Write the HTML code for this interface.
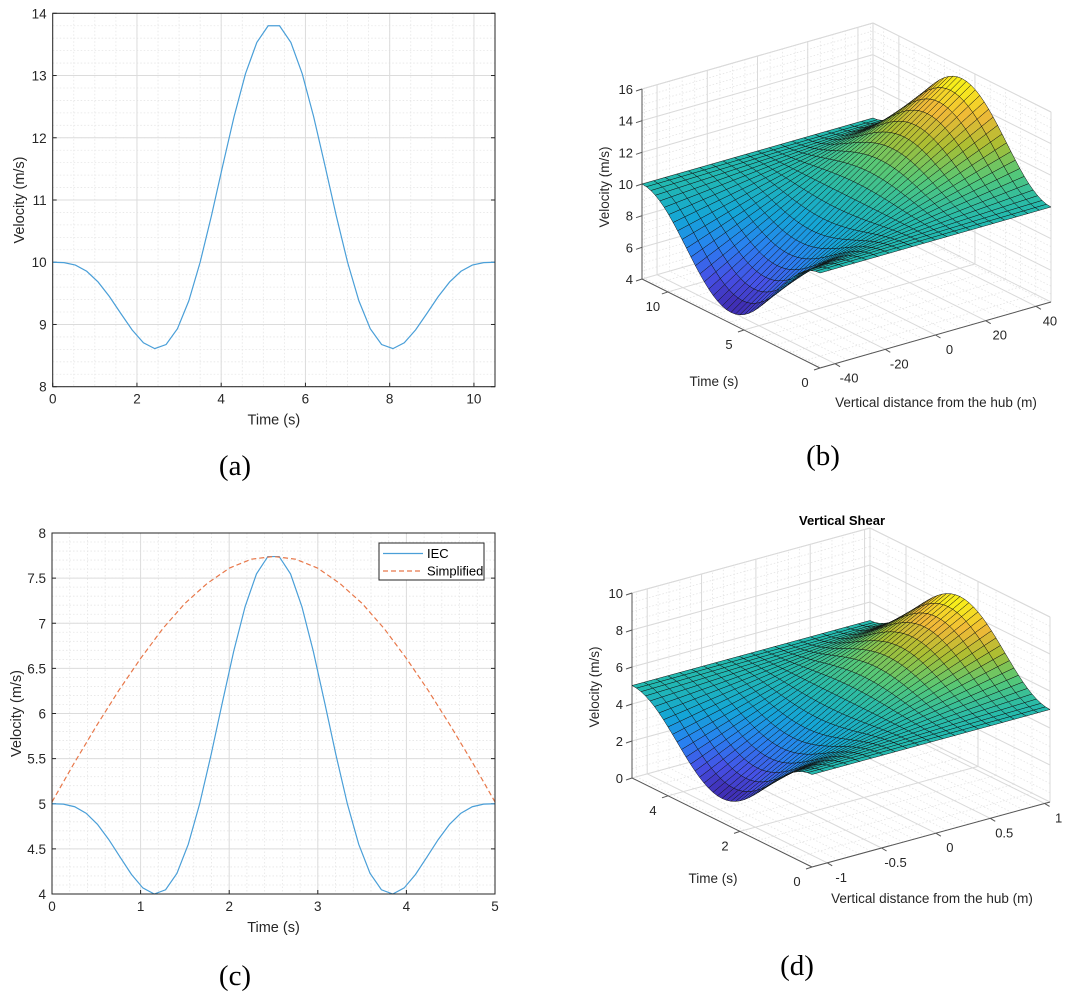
<!DOCTYPE html>
<html><head><meta charset="utf-8"><style>
html,body{margin:0;padding:0;background:#fff;}
svg{display:block;font-family:"Liberation Sans",Arial,sans-serif;}
.cap{font-family:"Liberation Serif","Times New Roman",serif;font-size:29px;fill:#000;}
</style></head><body>
<svg id="chart" width="1070" height="1003" viewBox="0 0 1070 1003" xmlns="http://www.w3.org/2000/svg">
<rect width="1070" height="1003" fill="#fff"/>
<text class="cap" x="235" y="475" text-anchor="middle">(a)</text>
<text class="cap" x="823" y="465" text-anchor="middle">(b)</text>
<text class="cap" x="235" y="985" text-anchor="middle">(c)</text>
<text class="cap" x="797" y="975" text-anchor="middle">(d)</text>
</svg>
<script>
// ---------- data ----------
const velocityA = [10,9.994,9.954,9.855,9.683,9.449,9.178,8.913,8.706,8.612,8.678,8.931,9.379,10,10.749,11.558,12.346,13.029,13.533,13.8,
 13.8,13.533,13.029,12.346,11.558,10.749,10,9.379,8.931,8.678,8.612,8.706,8.913,9.178,9.449,9.683,9.855,9.954,9.994,10];
const velocityIEC = [5,4.996,4.967,4.895,4.772,4.603,4.408,4.216,4.067,4.0,4.047,4.229,4.552,5,5.54,6.123,6.691,7.184,7.547,7.739,
 7.739,7.547,7.184,6.691,6.123,5.54,5,4.552,4.229,4.047,4.0,4.067,4.216,4.408,4.603,4.772,4.895,4.967,4.996,5];
const velocitySimplified = [5.02,5.45,5.86,6.25,6.61,6.94,7.22,7.44,7.61,7.71,7.74,7.71,7.61,7.44,7.22,6.94,6.61,6.25,5.86,5.45,5.02];
const gustProfile = [0,0.006,0.025,0.055,0.096,0.146,0.206,0.273,0.346,0.422,0.5,0.578,0.655,0.727,0.794,0.854,0.905,0.946,0.976,0.994,1,
 0.994,0.976,0.946,0.905,0.854,0.794,0.727,0.655,0.578,0.5,0.422,0.346,0.273,0.206,0.146,0.096,0.055,0.025,0.006,0];
const shearFactor = [-1,-0.9,-0.8,-0.7,-0.6,-0.5,-0.4,-0.3,-0.2,-0.1,0,0.1,0.2,0.3,0.4,0.5,0.6,0.7,0.8,0.9,1];
const hubSpeedB = 10, gustB = 5.3;
const hubSpeedD = 5, gustD = 3.7;
const ticksAx = [0,2,4,6,8,10], ticksAy = [8,9,10,11,12,13,14];
const ticksCx = [0,1,2,3,4,5], ticksCy = [4,4.5,5,5.5,6,6.5,7,7.5,8];
const ticksBt = [0,5,10], ticksBz = [-40,-20,0,20,40], ticksBv = [4,6,8,10,12,14,16];
const ticksDt = [0,2,4], ticksDz = [-1,-0.5,0,0.5,1], ticksDv = [0,2,4,6,8,10];

const NS = "http://www.w3.org/2000/svg";
const svg = document.getElementById('chart');
function mk(tag, attrs, parent){
  const e = document.createElementNS(NS, tag);
  for (const k in attrs) e.setAttribute(k, attrs[k]);
  (parent||svg).appendChild(e); return e;
}
function lin(d0,d1,r0,r1){return v=>r0+(v-d0)/(d1-d0)*(r1-r0);}
function fmt(v){return (Math.abs(v)<1e-9?0:v).toString();}

// ---------- 2D panels ----------
function draw2D(c){
  const g = mk('g',{});
  
  
  const X = lin(c.xr[0],c.xr[1],c.box[0],c.box[2]), Y = lin(c.yr[0],c.yr[1],c.box[3],c.box[1]);
  for (let v=c.xr[0]; v<=c.xr[1]+1e-9; v+=c.mx){
    const l = mk('line',{x1:X(v),x2:X(v),y1:c.box[1],y2:c.box[3],stroke:'#e6e6e6','stroke-width':0.8,'stroke-dasharray':'1.5 2'},g);
     
  }
  for (let v=c.yr[0]; v<=c.yr[1]+1e-9; v+=c.my){
    const l = mk('line',{y1:Y(v),y2:Y(v),x1:c.box[0],x2:c.box[2],stroke:'#e6e6e6','stroke-width':0.8,'stroke-dasharray':'1.5 2'},g);
     
  }
  c.xt.forEach(v=>{
    const l = mk('line',{x1:X(v),x2:X(v),y1:c.box[1],y2:c.box[3],stroke:'#dcdcdc','stroke-width':1},g);
     
    const t = mk('text',{x:X(v),y:c.box[3]+17,'text-anchor':'middle','font-size':13.5,fill:'#262626'},g);
    t.textContent = fmt(v);
     
    const tk = mk('line',{x1:X(v),x2:X(v),y1:c.box[3],y2:c.box[3]-4,stroke:'#262626','stroke-width':1},g);
     
  });
  c.yt.forEach(v=>{
    const l = mk('line',{y1:Y(v),y2:Y(v),x1:c.box[0],x2:c.box[2],stroke:'#dcdcdc','stroke-width':1},g);
     
    const t = mk('text',{x:c.box[0]-6,y:Y(v)+5,'text-anchor':'end','font-size':13.5,fill:'#262626'},g);
    t.textContent = fmt(v);
     
    const tk = mk('line',{x1:c.box[0],x2:c.box[0]+4,y1:Y(v),y2:Y(v),stroke:'#262626','stroke-width':1},g);
     
    const tk2 = mk('line',{x1:c.box[2],x2:c.box[2]-4,y1:Y(v),y2:Y(v),stroke:'#262626','stroke-width':1},g);
     
  });
  c.series.forEach(s=>{
    const n = s.values.length;
    const pts = s.values.map((v,i)=>X(c.xr[0]+i*(s.span)/(n-1))+','+Y(v)).join(' ');
    const p = mk('polyline',{points:pts,fill:'none',stroke:s.color,'stroke-width':1.2,'stroke-dasharray':s.dash||'none'},g);
     
  });
  const box = mk('rect',{x:c.box[0],y:c.box[1],width:c.box[2]-c.box[0],height:c.box[3]-c.box[1],fill:'none',stroke:'#262626','stroke-width':1},g);
   
  const xl = mk('text',{x:(c.box[0]+c.box[2])/2,y:c.box[3]+38,'text-anchor':'middle','font-size':14.5,fill:'#262626'},g);
  xl.textContent = 'Time (s)';
   
  const yl = mk('text',{x:0,y:0,'text-anchor':'middle','font-size':14.5,fill:'#262626',transform:`translate(${c.ylx},${(c.box[1]+c.box[3])/2}) rotate(-90)`},g);
  yl.textContent = 'Velocity (m/s)';
   
  return g;
}
draw2D({name:'panel-a',box:[52.7,13.3,495,386.7],xr:[0,10.5],yr:[8,14],xt:ticksAx,yt:ticksAy,mx:0.5,my:0.2,ylx:24,
  series:[{name:'velocity-line',values:velocityA,span:10.5,color:'#4a9fd8'}]});
const gc = draw2D({name:'panel-c',box:[52,533,495,894],xr:[0,5],yr:[4,8],xt:ticksCx,yt:ticksCy,mx:0.2,my:0.1,ylx:21,
  series:[{name:'iec-line',values:velocityIEC,span:5,color:'#4a9fd8'},
          {name:'simplified-line',values:velocitySimplified,span:5,color:'#e8784a',dash:'5 3'}]});
const lg = mk('g',{},gc);
 
const lr = mk('rect',{x:379,y:543,width:105,height:37,fill:'#fff',stroke:'#262626','stroke-width':1},lg);
 
const l1 = mk('line',{x1:383,x2:423,y1:553.5,y2:553.5,stroke:'#4a9fd8','stroke-width':1.2},lg);
 
const t1 = mk('text',{x:427,y:558,'font-size':13,fill:'#000'},lg); t1.textContent='IEC';
 
const l2 = mk('line',{x1:383,x2:423,y1:571,y2:571,stroke:'#e8784a','stroke-width':1.2,'stroke-dasharray':'5 3'},lg);
 
const t2 = mk('text',{x:427,y:575.5,'font-size':13,fill:'#000'},lg); t2.textContent='Simplified';
 

// ---------- 3D panels ----------
const parula = [[0,62,38,168],[0.12,70,80,230],[0.25,40,130,240],[0.37,20,165,215],[0.5,35,185,175],[0.62,85,200,120],[0.75,170,190,50],[0.87,240,185,55],[1,249,250,20]];
function pcolor(f){
  f = Math.max(0,Math.min(1,f));
  for (let i=1;i<parula.length;i++){
    if (f<=parula[i][0]){
      const a=parula[i-1], b=parula[i], u=(f-a[0])/(b[0]-a[0]);
      return `rgb(${Math.round(a[1]+u*(b[1]-a[1]))},${Math.round(a[2]+u*(b[2]-a[2]))},${Math.round(a[3]+u*(b[3]-a[3]))})`;
    }
  }
  return 'rgb(249,250,20)';
}
function draw3D(c){
  const g = mk('g',{});
  
  
  const [t0,t1]=c.tr, [z0,z1]=c.zr, [v0,v1]=c.vr;
  function P(z,t,v){
    const a=(t-t0)/(t1-t0), b=(z-z0)/(z1-z0), d=(v-v0)/(v1-v0);
    return [c.O[0]+a*c.Et[0]+b*c.Ez[0]+d*c.Ev[0], c.O[1]+a*c.Et[1]+b*c.Ez[1]+d*c.Ev[1]];
  }
  function line(p,q,attrs,name){
    const l = mk('line',Object.assign({x1:p[0],y1:p[1],x2:q[0],y2:q[1]},attrs),g);
    
    
  }
  const minor = {stroke:'#e4e4e4','stroke-width':0.8,'stroke-dasharray':'1.5 2'};
  const major = {stroke:'#dadada','stroke-width':1};
  for (let z=Math.ceil(z0/c.mz)*c.mz; z<=z1+1e-9; z+=c.mz){ line(P(z,t1,v0),P(z,t1,v1),minor,'wall-minor-grid'); line(P(z,t0,v0),P(z,t1,v0),minor,'floor-minor-grid'); }
  for (let t=t0; t<=t1+1e-9; t+=c.mt){ line(P(z1,t,v0),P(z1,t,v1),minor,'wall-minor-grid'); line(P(z0,t,v0),P(z1,t,v0),minor,'floor-minor-grid'); }
  for (let v=v0; v<=v1+1e-9; v+=c.mv){ line(P(z0,t1,v),P(z1,t1,v),minor,'wall-minor-grid'); line(P(z1,t0,v),P(z1,t1,v),minor,'wall-minor-grid'); }
  c.zt.forEach(z=>{ line(P(z,t1,v0),P(z,t1,v1),major,'wall-grid-line'); line(P(z,t0,v0),P(z,t1,v0),major,'floor-grid-line'); });
  c.tt.forEach(t=>{ line(P(z1,t,v0),P(z1,t,v1),major,'wall-grid-line'); line(P(z0,t,v0),P(z1,t,v0),major,'floor-grid-line'); });
  c.vt.forEach(v=>{ line(P(z0,t1,v),P(z1,t1,v),major,'wall-grid-line'); line(P(z1,t0,v),P(z1,t1,v),major,'wall-grid-line'); });
  line(P(z1,t1,v0),P(z1,t1,v1),major,'wall-edge');
  line(P(z1,t0,v0),P(z1,t0,v1),major,'wall-edge');
  line(P(z0,t1,v1),P(z1,t1,v1),major,'wall-edge');
  line(P(z1,t1,v1),P(z1,t0,v1),major,'wall-edge');
  const ax = {stroke:'#555','stroke-width':1};
  line(P(z0,t1,v0),P(z0,t1,v1),ax,'z-axis-line');
  line(P(z0,t0,v0),P(z0,t1,v0),ax,'time-axis-line');
  line(P(z0,t0,v0),P(z1,t0,v0),ax,'distance-axis-line');
  c.vt.forEach(v=>{
    const p=P(z0,t1,v);
    line(p,[p[0]-6,p[1]+2],ax,'velocity-tick');
    const t = mk('text',{x:p[0]-9,y:p[1]+5,'text-anchor':'end','font-size':13,fill:'#262626'},g);
    t.textContent=fmt(v);
     
  });
  c.tt.forEach(tv=>{
    const p=P(z0,tv,v0);
    line(p,[p[0]-6,p[1]+2],ax,'time-tick');
    const t = mk('text',{x:p[0]-15,y:p[1]+19,'text-anchor':'middle','font-size':13,fill:'#262626'},g);
    t.textContent=fmt(tv);
     
  });
  c.zt.forEach(zv=>{
    const p=P(zv,t0,v0);
    line(p,[p[0]+5,p[1]+3],ax,'distance-tick');
    const t = mk('text',{x:p[0]+14,y:p[1]+19,'text-anchor':'middle','font-size':13,fill:'#262626'},g);
    t.textContent=fmt(zv);
     
  });
  const nt=gustProfile.length, nz=shearFactor.length;
  const V=[]; let vmin=1e9,vmax=-1e9;
  for (let j=0;j<nt;j++){ V[j]=[]; for (let i=0;i<nz;i++){ const v=c.base+shearFactor[i]*c.gust*gustProfile[j]; V[j][i]=v; vmin=Math.min(vmin,v); vmax=Math.max(vmax,v);} }
  const tAt=j=>t0+j*(t1-t0)/(nt-1), zAt=i=>z0+i*(z1-z0)/(nz-1);
  const quads=[];
  for (let j=0;j<nt-1;j++) for (let i=0;i<nz-1;i++){
    const fp=P(zAt(i+0.5),tAt(j+0.5),v0);
    quads.push([fp[1],j,i]);
  }
  quads.sort((a,b)=>a[0]-b[0]);
  const sg = mk('g',{},g);
   
  quads.forEach(([d,j,i])=>{
    const pts=[[i,j],[i+1,j],[i+1,j+1],[i,j+1]].map(([a,b])=>P(zAt(a),tAt(b),V[b][a]).join(',')).join(' ');
    const avg=(V[j][i]+V[j][i+1]+V[j+1][i]+V[j+1][i+1])/4;
    const q = mk('polygon',{points:pts,fill:pcolor((avg-vmin)/(vmax-vmin)),stroke:'#111','stroke-width':0.5,'stroke-linejoin':'round'},sg);
     
  });
  const tl = mk('text',{x:c.tlab[0],y:c.tlab[1],'text-anchor':'middle','font-size':13.5,fill:'#262626'},g);
  tl.textContent='Time (s)';
   
  const zl = mk('text',{x:c.zlab[0],y:c.zlab[1],'text-anchor':'middle','font-size':13.5,fill:'#262626'},g);
  zl.textContent='Vertical distance from the hub (m)';
   
  const vl = mk('text',{x:0,y:0,'text-anchor':'middle','font-size':13.5,fill:'#262626',transform:`translate(${c.vlab[0]},${c.vlab[1]}) rotate(-90)`},g);
  vl.textContent='Velocity (m/s)';
   
  if (c.title){
    const ti = mk('text',{x:c.title[1],y:c.title[2],'text-anchor':'middle','font-size':13,'font-weight':'bold',fill:'#000'},g);
    ti.textContent=c.title[0];
     
  }
}
draw3D({name:'panel-b',O:[820,368],Et:[-178,-89],Ez:[231,-66],Ev:[0,-190],tr:[0,11.7],zr:[-46,46],vr:[4,16],
  tt:ticksBt,zt:ticksBz,vt:ticksBv,mt:1,mz:5,mv:0.5,base:hubSpeedB,gust:gustB,
  tlab:[714,386],zlab:[936,407],vlab:[609,187]});
draw3D({name:'panel-d',O:[812,867],Et:[-180,-89],Ez:[238,-65],Ev:[0,-185],tr:[0,5],zr:[-1.14,1.05],vr:[0,10],
  tt:ticksDt,zt:ticksDz,vt:ticksDv,mt:0.5,mz:0.1,mv:0.5,base:hubSpeedD,gust:gustD,
  tlab:[713,883],zlab:[932,903],vlab:[599,687],title:['Vertical Shear',842,525]});
</script>
</body></html>
